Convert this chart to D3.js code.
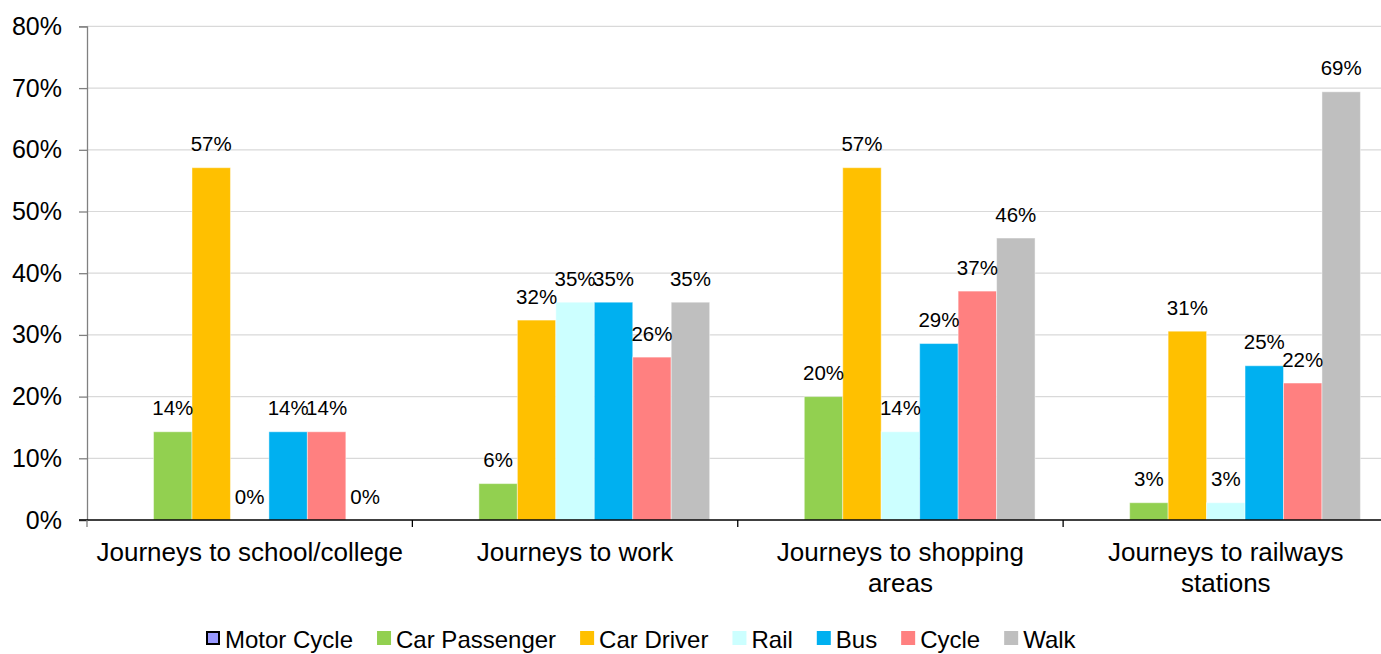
<!DOCTYPE html>
<html>
<head>
<meta charset="utf-8">
<script src="https://cdn.jsdelivr.net/npm/d3@7"></script>
<style>
  html, body { margin: 0; padding: 0; background: #fff; }
  svg { display: block; font-family: "Liberation Sans", Arial, sans-serif; }
</style>
</head>
<body>
<svg id="chart" width="1381" height="654"></svg>
<script>
// Journey purposes (x categories)
const categories = [
  "Journeys to school/college",
  "Journeys to work",
  "Journeys to shopping areas",
  "Journeys to railways stations"
];

// Modes of travel (series)
const seriesNames = ["Motor Cycle", "Car Passenger", "Car Driver", "Rail", "Bus", "Cycle", "Walk"];
const seriesColors = ["#9999FF", "#92D050", "#FFC000", "#CCFFFF", "#00B0F0", "#FF8080", "#BFBFBF"];

// Share of respondents per mode, in percent (null = no response recorded)
const motorCycle   = [null, null, null, null];
const carPassenger = [14.3, 5.9, 20.0, 2.8];
const carDriver    = [57.1, 32.4, 57.1, 30.6];
const rail         = [0, 35.3, 14.3, 2.8];
const bus          = [14.3, 35.3, 28.6, 25.0];
const cycle        = [14.3, 26.4, 37.1, 22.2];
const walk         = [0, 35.3, 45.7, 69.4];

const yTicks = [0, 10, 20, 30, 40, 50, 60, 70, 80];

const seriesValues = [motorCycle, carPassenger, carDriver, rail, bus, cycle, walk];

const svg = d3.select("#chart");
const W = 1381, H = 654;

const plotLeft = 87, plotRight = 1388.5, plotTop = 26.4, plotBottom = 520;

const x0 = d3.scaleBand().domain(categories).range([plotLeft, plotRight]).paddingInner(0).paddingOuter(0);
const x1 = d3.scaleBand().domain(seriesNames).range([0, x0.bandwidth()]).paddingInner(0).paddingOuter(0.73);
const y = d3.scaleLinear().domain([0, 80]).range([plotBottom, plotTop]);
const color = d3.scaleOrdinal().domain(seriesNames).range(seriesColors);

// Horizontal gridlines
svg.append("g")
  .selectAll("line")
  .data(yTicks.filter(d => d > 0))
  .join("line")
  .attr("x1", plotLeft).attr("x2", W)
  .attr("y1", d => y(d)).attr("y2", d => y(d))
  .attr("stroke", "#d9d9d9").attr("stroke-width", 1.2);

// Y axis
const yAxis = svg.append("g")
  .attr("transform", `translate(${plotLeft},0)`)
  .call(d3.axisLeft(y).tickValues(yTicks).tickFormat(d => d + "%").tickSize(8).tickPadding(17));
yAxis.select(".domain").attr("stroke", "#808080").attr("stroke-width", 1.3);
yAxis.selectAll(".tick line").attr("stroke", "#808080").attr("stroke-width", 1.3);
yAxis.selectAll(".tick text")
  .attr("font-size", 25)
  .attr("fill", "#000")
  .attr("font-family", "Liberation Sans, Arial, sans-serif");

// Bars
const rows = [];
categories.forEach((c, ci) => {
  seriesNames.forEach((s, si) => {
    const v = seriesValues[si][ci];
    if (v !== null && v !== undefined) rows.push({ category: c, series: s, value: v });
  });
});

svg.append("g")
  .selectAll("rect")
  .data(rows)
  .join("rect")
  .attr("x", d => x0(d.category) + x1(d.series))
  .attr("y", d => y(d.value))
  .attr("width", x1.bandwidth())
  .attr("height", d => y(0) - y(d.value))
  .attr("fill", d => color(d.series))
  .attr("stroke", "rgba(255,255,255,0.45)")
  .attr("stroke-width", 1);

// X axis (baseline + group separators)
const xAxisG = svg.append("g");
xAxisG.append("line")
  .attr("x1", plotLeft - 8).attr("x2", W)
  .attr("y1", plotBottom).attr("y2", plotBottom)
  .attr("stroke", "#000").attr("stroke-width", 1.3);
xAxisG.selectAll("line.sep")
  .data(categories.slice(1))
  .join("line")
  .attr("class", "sep")
  .attr("x1", d => x0(d)).attr("x2", d => x0(d))
  .attr("y1", plotBottom).attr("y2", plotBottom + 7)
  .attr("stroke", "#000").attr("stroke-width", 1.3);
xAxisG.append("line")
  .attr("x1", plotLeft).attr("x2", plotLeft)
  .attr("y1", plotBottom).attr("y2", plotBottom + 7)
  .attr("stroke", "#808080").attr("stroke-width", 1.3);

// Category labels, wrapped to fit the group
const catG = svg.append("g")
  .attr("font-size", 26)
  .attr("fill", "#000")
  .attr("text-anchor", "middle");

function wrapWords(text, maxW, measurer) {
  const words = text.split(" ");
  const lines = [];
  let cur = "";
  words.forEach(w => {
    const test = cur ? cur + " " + w : w;
    measurer.text(test);
    if (measurer.node().getComputedTextLength() > maxW && cur) {
      lines.push(cur);
      cur = w;
    } else {
      cur = test;
    }
  });
  if (cur) lines.push(cur);
  return lines;
}
const measurer = catG.append("text").attr("visibility", "hidden");
categories.forEach(c => {
  const lines = wrapWords(c, 316, measurer);
  const t = catG.append("text")
    .attr("x", x0(c) + x0.bandwidth() / 2)
    .attr("y", 561);
  lines.forEach((ln, i) => {
    t.append("tspan")
      .attr("x", x0(c) + x0.bandwidth() / 2)
      .attr("dy", i === 0 ? 0 : 30.5)
      .text(ln);
  });
});
measurer.remove();

// Data labels
svg.append("g")
  .attr("font-size", 20.5)
  .attr("fill", "#000")
  .attr("text-anchor", "middle")
  .selectAll("text")
  .data(rows)
  .join("text")
  .attr("x", d => x0(d.category) + x1(d.series) + x1.bandwidth() / 2)
  .attr("y", d => y(d.value) - 16.5)
  .text(d => Math.round(d.value) + "%");

// Legend along the bottom edge
const legend = svg.append("g").attr("font-size", 24).attr("fill", "#000");
const legendBase = 648;
let lx = 206;
seriesNames.forEach((s, i) => {
  const g = legend.append("g");
  if (i === 0) {
    g.append("rect")
      .attr("x", lx + 1).attr("y", legendBase - 16).attr("width", 12).attr("height", 12)
      .attr("fill", color(s)).attr("stroke", "#000").attr("stroke-width", 2);
  } else {
    g.append("rect")
      .attr("x", lx).attr("y", legendBase - 17).attr("width", 14).attr("height", 14)
      .attr("fill", color(s));
  }
  const t = g.append("text").attr("x", lx + 19).attr("y", legendBase).text(s);
  lx = lx + 19 + t.node().getComputedTextLength() + 24;
});
</script>
</body>
</html>
